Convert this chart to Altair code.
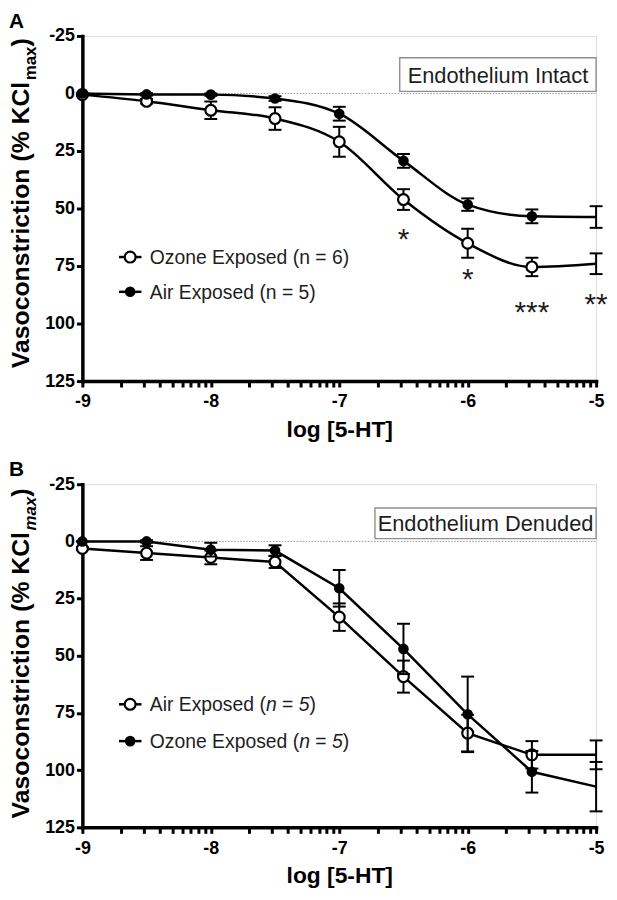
import math
import altair as alt
import pandas as pd

FONT = "Liberation Sans, Arial, Helvetica, sans-serif"

# ---------------- data ----------------
log_5ht = [-9.0, -8.5, -8.0, -7.5, -7.0, -6.5, -6.0, -5.5, -5.0]

# Panel A: endothelium intact
a_ozone_mean = [0.5, 3.4, 7.3, 10.9, 21.0, 46.1, 65.1, 75.4, 74.0]
a_ozone_sem = [0.5, 1.0, 3.8, 4.9, 6.5, 4.5, 6.3, 4.0, 4.5]
a_air_mean = [0.0, 0.4, 0.5, 2.2, 8.8, 29.3, 48.3, 53.4, 53.7]
a_air_sem = [0.0, 0.5, 0.5, 1.0, 3.0, 3.0, 2.7, 3.0, 4.7]

# Panel B: endothelium denuded
b_air_mean = [3.1, 5.1, 7.0, 9.0, 33.1, 59.1, 83.8, 93.3, 93.3]
b_air_sem = [0.5, 3.0, 3.0, 2.6, 6.0, 7.0, 8.0, 6.0, 6.3]
b_ozone_mean = [0.0, 0.0, 3.6, 4.0, 20.5, 47.0, 75.6, 100.7, 107.2]
b_ozone_sem = [0.0, 0.5, 3.0, 2.3, 8.0, 11.0, 16.5, 9.1, 10.8]

# significance marks (panel A)
star_x = [-6.5, -6.0, -5.5, -5.0]
star_y = [60.3, 77.6, 91.8, 88.4]
star_text = ["*", "*", "***", "**"]

y_ticks = [-25, 0, 25, 50, 75, 100, 125]

# Arial / Liberation Sans regular advance widths (1/1000 em) for legend layout
W = {'A': 667, 'i': 222, 'r': 333, ' ': 278, 'E': 667, 'x': 500, 'p': 556, 'o': 556,
     's': 500, 'e': 556, 'd': 556, '(': 333, ')': 333, 'n': 556, '=': 584, '5': 556,
     '6': 556, 'O': 778, 'z': 500}

LEG_SIZE = 19.5


def tw(s, size):
    return sum(W[c] for c in s) * size / 1000.0


# ---------------- axes & scales ----------------
minor = sorted([d + math.log10(k) for d in range(-9, -5) for k in range(1, 10)] + [-5.0])

x_scale = alt.Scale(domain=[-9, -5], nice=False, zero=False)
y_scale = alt.Scale(domain=[-25, 125], reverse=True, nice=False, zero=False)

common_axis = dict(
    domainColor="black", domainWidth=3.5, domainCap="square",
    tickColor="black", tickWidth=3, tickSize=6,
    labelFont=FONT, labelFontSize=18, labelFontWeight="bold", labelColor="black",
    grid=False, labelOverlap=False, labelFlush=False,
)
x_axis = alt.Axis(
    values=minor,
    labelExpr="abs(datum.value - round(datum.value)) < 0.001 ? '-' + format(abs(datum.value), 'd') : ''",
    labelPadding=6,
    title="log [5-HT]", titleFont=FONT, titleFontSize=23, titleFontWeight="bold",
    titleColor="black", titlePadding=8,
    **common_axis,
)
y_axis = alt.Axis(
    values=y_ticks,
    labelExpr="datum.value < 0 ? '-' + abs(datum.value) : '' + datum.value",
    labelPadding=2, title=None,
    **common_axis,
)


def X(field="x"):
    return alt.X(f"{field}:Q", scale=x_scale, axis=x_axis)


def Y(field):
    return alt.Y(f"{field}:Q", scale=y_scale, axis=y_axis)


def series_df(means, sems):
    return pd.DataFrame({
        "x": log_5ht,
        "mean": means,
        "lo": [m - s for m, s in zip(means, sems)],
        "hi": [m + s for m, s in zip(means, sems)],
        "marker": [v < -5 for v in log_5ht],
    })


def one():
    return pd.DataFrame({"k": [0]})


def open_pt(chart, xf, yf):
    return chart.mark_point(shape="circle", filled=False, fill="white", stroke="black",
                            strokeWidth=2.2, size=120, opacity=1, fillOpacity=1).encode(x=X(xf), y=Y(yf))


def filled_pt(chart, xf, yf):
    return chart.mark_point(shape="circle", filled=True, color="black", size=115, opacity=1).encode(
        x=X(xf), y=Y(yf))


def series_layers(df, filled, interp):
    base = alt.Chart(df)
    line = base.mark_line(color="black", strokeWidth=2.5, interpolate=interp).encode(x=X(), y=Y("mean"))
    bar = base.mark_rule(color="black", strokeWidth=2).encode(x=X(), y=Y("lo"), y2="hi")
    cap_lo = base.mark_tick(orient="horizontal", color="black", size=13, thickness=2, opacity=1).encode(x=X(), y=Y("lo"))
    cap_hi = base.mark_tick(orient="horizontal", color="black", size=13, thickness=2, opacity=1).encode(x=X(), y=Y("hi"))
    pts = base.transform_filter("datum.marker")
    pt = filled_pt(pts, "x", "mean") if filled else open_pt(pts, "x", "mean")
    return [line, bar, cap_lo, cap_hi, pt]


def legend_layers(rows):
    # rows: list of (y, filled, segments[(text, italic, space_before)])
    layers = []
    for y, filled, segs in rows:
        d = pd.DataFrame({"x": [-8.715], "x2": [-8.54], "xm": [-8.628], "xt": [-8.475], "y": [y]})
        b = alt.Chart(d)
        layers.append(b.mark_rule(color="black", strokeWidth=2.5).encode(x=X(), x2="x2", y=Y("y")))
        layers.append(filled_pt(b, "xm", "y") if filled else open_pt(b, "xm", "y"))
        off = 0.0
        for text, italic, gap in segs:
            off += gap * tw(" ", LEG_SIZE)
            layers.append(b.mark_text(align="left", baseline="middle", font=FONT, fontSize=LEG_SIZE,
                                      fontStyle="italic" if italic else "normal",
                                      color="#1e1e1e", dx=off, dy=1)
                          .encode(x=X("xt"), y=Y("y"), text=alt.value(text)))
            off += tw(text, LEG_SIZE)
    return layers


def box_layers(x0, y0, y1, label):
    d = pd.DataFrame({"x": [x0], "x2": [-5.0], "y": [y0], "y2": [y1],
                      "xc": [(x0 - 5.0) / 2], "yc": [(y0 + y1) / 2]})
    b = alt.Chart(d)
    rect = b.mark_rect(fill="white", stroke="#8e8e8e", strokeWidth=1.4).encode(
        x=X(), x2="x2", y=Y("y"), y2="y2")
    txt = b.mark_text(align="center", baseline="middle", font=FONT, fontSize=22, color="#1e1e1e", dy=1).encode(
        x=X("xc"), y=Y("yc"), text=alt.value(label))
    return [rect, txt]


def zero_line():
    d = pd.DataFrame({"x": [-9.0], "x2": [-5.0], "y": [0.0]})
    return alt.Chart(d).mark_rule(color="#9a9a9a", strokeWidth=1, strokeDash=[1.5, 1.5]).encode(
        x=X(), x2="x2", y=Y("y"))


def title_layers(letter, sub_italic, start):
    main_size, sub_size = 25, 17
    main_txt = "Vasoconstriction (% KCl"
    main_w = 11.613 * main_size
    end_main = start - main_w
    end_sub = end_main - 2.001 * sub_size
    mk = lambda: alt.Chart(one())
    return [
        mk().mark_text(angle=270, align="left", baseline="alphabetic", font=FONT, fontSize=main_size,
                       fontWeight="bold", color="black")
        .encode(x=alt.value(-54), y=alt.value(start), text=alt.value(main_txt)),
        mk().mark_text(angle=270, align="left", baseline="alphabetic", font=FONT, fontSize=sub_size,
                       fontWeight="bold", fontStyle="italic" if sub_italic else "normal", color="black")
        .encode(x=alt.value(-47), y=alt.value(end_main), text=alt.value("max")),
        mk().mark_text(angle=270, align="left", baseline="alphabetic", font=FONT, fontSize=main_size,
                       fontWeight="bold", color="black")
        .encode(x=alt.value(-54), y=alt.value(end_sub), text=alt.value(")")),
        mk().mark_text(align="left", baseline="alphabetic", font=FONT, fontSize=21, fontWeight="bold",
                       color="black")
        .encode(x=alt.value(-74), y=alt.value(-8), text=alt.value(letter)),
    ]


def leg_segs(prefix, num):
    return [(prefix + " (", False, 0), ("n", True, 0), ("=", False, 1), (num, True, 1), (")", False, 0)]


# ---------------- panel A ----------------
a_layers = [zero_line()]
a_layers += box_layers(-6.529, -15.5, -0.9, "Endothelium Intact")
a_layers += series_layers(series_df(a_ozone_mean, a_ozone_sem), False, "monotone")
a_layers += series_layers(series_df(a_air_mean, a_air_sem), True, "monotone")
a_layers += legend_layers([
    (71.1, False, [("Ozone Exposed (n = 6)", False, 0)]),
    (86.2, True, [("Air Exposed (n = 5)", False, 0)]),
])
stars = pd.DataFrame({"x": star_x, "y": star_y, "t": star_text})
a_layers.append(alt.Chart(stars).mark_text(align="center", baseline="middle", font=FONT, fontSize=30,
                                           color="#1e1e1e", dy=8)
                .encode(x=X(), y=Y("y"), text="t:N"))
a_layers += title_layers("A", False, 335)
panel_a = alt.layer(*a_layers).properties(width=518, height=348)

# ---------------- panel B ----------------
b_layers = [zero_line()]
b_layers += box_layers(-6.722, -14.6, -1.2, "Endothelium Denuded")
b_layers += series_layers(series_df(b_air_mean, b_air_sem), False, "linear")
b_layers += series_layers(series_df(b_ozone_mean, b_ozone_sem), True, "linear")
b_layers += legend_layers([
    (71.2, False, leg_segs("Air Exposed", "5")),
    (87.3, True, leg_segs("Ozone Exposed", "5")),
])
b_layers += title_layers("B", True, 337)
panel_b = alt.layer(*b_layers).properties(width=518, height=346)

chart = alt.vconcat(panel_a, panel_b, spacing=16).properties(
    padding={"left": 0, "top": -1.5, "right": 0, "bottom": 0}
).configure_view(stroke=None).configure(font=FONT, background="white")

chart.save("out.html", embed_options={"renderer": "svg", "actions": False})
